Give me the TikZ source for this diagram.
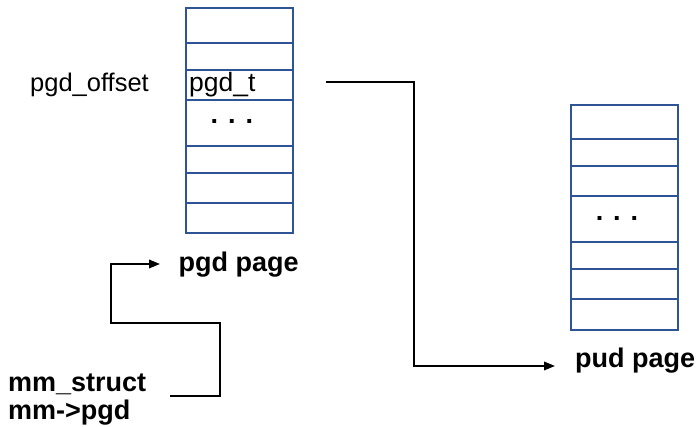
\documentclass[tikz,border=0pt]{standalone}
\usepackage{fontspec}
\setmainfont{Liberation Sans}
\usetikzlibrary{arrows.meta}
\definecolor{cellblue}{RGB}{47,84,150}
\tikzset{
  cell/.style={draw=cellblue, line width=2.3pt, inner sep=0pt, outer sep=0pt,
    minimum width=107pt, anchor=north west},
  reglabel/.style={inner sep=0pt, anchor=base west, font=\fontsize{25.5}{28}\selectfont},
  boldlabel/.style={inner sep=0pt, anchor=base west, font=\fontsize{27}{28}\selectfont\bfseries},
  dots/.style={inner sep=0pt, anchor=base, font=\fontsize{27}{28}\selectfont\bfseries},
  conn/.style={line width=2pt, -{Triangle[length=11pt,width=8.5pt]}}
}
\begin{document}
\begin{tikzpicture}[x=1pt,y=-1pt]
\useasboundingbox (0,0) rectangle (697,427);
% left column (pgd page)
\foreach \i/\t/\b in {1/8.3/42.7, 2/42.7/70, 3/70/100, 4/100/145.7, 5/145.7/172.7, 6/172.7/202.7, 7/202.7/233}
  \node[cell, minimum height={(\b-\t)*1pt}] (L\i) at (185.7,\t) {};
% right column (pud page)
\foreach \i/\t/\b in {1/105/139.3, 2/139.3/166, 3/166/196, 4/196/241.7, 5/241.7/269, 6/269/299, 7/299/330}
  \node[cell, minimum height={(\b-\t)*1pt}, minimum width=107.6pt] (R\i) at (570.7,\t) {};
% texts
\node[reglabel] (off) at (30,91.7) {pgd\_offset};
\node[reglabel, font=\fontsize{26.5}{28}\selectfont] (pgdt) at (189,91.7) {pgd\_t};
\node[dots] (dl) at (232,123.7) {. . .};
\node[dots] (dr) at (617,220.3) {. . .};
\node[boldlabel] (pgdpage) at (178.5,271.7) {pgd page};
\node[boldlabel] (pudpage) at (575,367.5) {pud page};
\node[boldlabel] (mms) at (8,391.7) {mm\_struct};
\node[boldlabel] (mmp) at (8,419.3) {mm->pgd};
% connectors
\coordinate (p1) at (326,82);
\coordinate (k1) at (414,366);
\coordinate (t1) at (555,366);
\draw[conn] (p1) -| (k1) -- (t1);
\coordinate (m1) at (170,396);
\coordinate (m2) at (220,323);
\coordinate (m3) at (110.7,264);
\coordinate (t2) at (160,264);
\draw[conn] (m1) -| (m2) -| (m3) -- (t2);
\end{tikzpicture}
\end{document}
